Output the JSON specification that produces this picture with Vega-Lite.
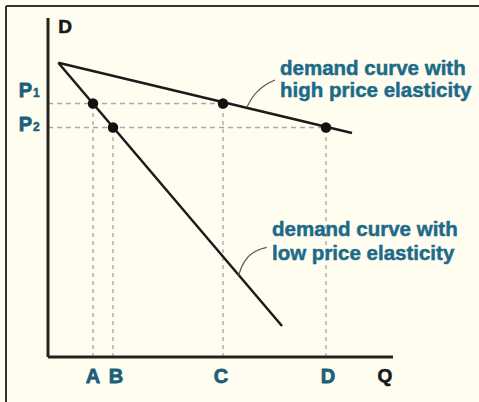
{
  "$schema": "https://vega.github.io/schema/vega-lite/v6.json",
  "width": 479,
  "height": 402,
  "autosize": "none",
  "padding": 0,
  "background": "#fffdf0",
  "config": {"view": {"stroke": null}},
  "datasets": {
    "curves": [
      {"curve": "high", "o": 0, "q": 1.03, "p": 29.43},
      {"curve": "high", "o": 1, "q": 30.4, "p": 22.4},
      {"curve": "low", "o": 0, "q": 1.03, "p": 29.43},
      {"curve": "low", "o": 1, "q": 23.4, "p": 3.1}
    ],
    "points": [
      {"name": "A", "q": 4.5, "p": 25.35},
      {"name": "B", "q": 6.5, "p": 22.95},
      {"name": "C", "q": 17.5, "p": 25.35},
      {"name": "D", "q": 27.8, "p": 22.95}
    ],
    "vdash": [
      {"q": 4.5, "p0": 0, "p1": 25.35},
      {"q": 6.5, "p0": 0, "p1": 22.95},
      {"q": 17.5, "p0": 0, "p1": 25.35},
      {"q": 27.8, "p0": 0, "p1": 22.95}
    ],
    "hdash": [
      {"q0": 0, "q1": 17.5, "p": 25.35},
      {"q0": 0, "q1": 27.8, "p": 22.95}
    ],
    "axes": [
      {"q0": 0, "q1": 0, "p0": 0, "p1": 33.9},
      {"q0": 0, "q1": 34.5, "p0": 0, "p1": 0}
    ],
    "border": [
      {"q0": -4.2, "q1": -4.2, "p0": 35.1, "p1": -4.5},
      {"q0": -4.2, "q1": 43.1, "p0": 35.1, "p1": 35.1}
    ],
    "leaders": [
      {"id": "high", "q": 19.9, "p": 25.0},
      {"id": "high", "q": 20.4, "p": 25.9},
      {"id": "high", "q": 21.1, "p": 26.7},
      {"id": "high", "q": 21.9, "p": 27.3},
      {"id": "high", "q": 22.7, "p": 27.7},
      {"id": "low", "q": 19.05, "p": 8.15},
      {"id": "low", "q": 19.37, "p": 9.03},
      {"id": "low", "q": 20.03, "p": 10.03},
      {"id": "low", "q": 20.87, "p": 10.63},
      {"id": "low", "q": 21.87, "p": 10.97}
    ],
    "ticklabels": [
      {"label": "A", "q": 4.5, "p": -2.6},
      {"label": "B", "q": 6.8, "p": -2.6},
      {"label": "C", "q": 17.3, "p": -2.6},
      {"label": "D", "q": 28.0, "p": -2.6}
    ],
    "axislabels": [
      {"label": "D", "q": 1.7, "p": 32.4},
      {"label": "Q", "q": 33.7, "p": -2.5}
    ],
    "plabels": [
      {"label": "P", "q": -2.25, "p": 26.0},
      {"label": "P", "q": -2.25, "p": 22.6}
    ],
    "psubs": [
      {"label": "1", "q": -1.5, "p": 26.0},
      {"label": "2", "q": -1.5, "p": 22.6}
    ],
    "notes": [
      {"text": "demand curve with", "q": 23.2, "p": 28.2},
      {"text": "high price elasticity", "q": 23.2, "p": 26.0},
      {"text": "demand curve with", "q": 22.4, "p": 12.1},
      {"text": "low price elasticity", "q": 22.4, "p": 9.7}
    ]
  },
  "layer": [
    {
      "data": {"name": "border"},
      "mark": {"type": "rule", "color": "#333333", "strokeWidth": 2},
      "encoding": {
        "x": {"field": "q0", "type": "quantitative", "scale": {"domain": [-4.8, 43.1], "nice": false, "zero": false}, "axis": null},
        "x2": {"field": "q1"},
        "y": {"field": "p0", "type": "quantitative", "scale": {"domain": [-4.5, 35.7], "nice": false, "zero": false}, "axis": null},
        "y2": {"field": "p1"}
      }
    },
    {
      "data": {"name": "hdash"},
      "mark": {"type": "rule", "color": "#a8a8a8", "strokeWidth": 1.5, "strokeDash": [5, 4]},
      "encoding": {
        "x": {"field": "q0", "type": "quantitative"},
        "x2": {"field": "q1"},
        "y": {"field": "p", "type": "quantitative"}
      }
    },
    {
      "data": {"name": "vdash"},
      "mark": {"type": "rule", "color": "#b0b0b0", "strokeWidth": 1.5, "strokeDash": [4, 4]},
      "encoding": {
        "x": {"field": "q", "type": "quantitative"},
        "y": {"field": "p0", "type": "quantitative"},
        "y2": {"field": "p1"}
      }
    },
    {
      "data": {"name": "axes"},
      "mark": {"type": "rule", "color": "#222222", "strokeWidth": 3},
      "encoding": {
        "x": {"field": "q0", "type": "quantitative"},
        "x2": {"field": "q1"},
        "y": {"field": "p0", "type": "quantitative"},
        "y2": {"field": "p1"}
      }
    },
    {
      "data": {"name": "curves"},
      "mark": {"type": "line", "color": "#1a1a1a", "strokeWidth": 2.5},
      "encoding": {
        "x": {"field": "q", "type": "quantitative"},
        "y": {"field": "p", "type": "quantitative"},
        "detail": {"field": "curve", "type": "nominal"},
        "order": {"field": "o", "type": "quantitative"}
      }
    },
    {
      "data": {"name": "leaders"},
      "mark": {"type": "line", "color": "#555555", "strokeWidth": 1.2, "interpolate": "monotone"},
      "encoding": {
        "x": {"field": "q", "type": "quantitative"},
        "y": {"field": "p", "type": "quantitative"},
        "detail": {"field": "id", "type": "nominal"}
      }
    },
    {
      "data": {"name": "points"},
      "mark": {"type": "circle", "color": "#111111", "opacity": 1, "size": 110},
      "encoding": {
        "x": {"field": "q", "type": "quantitative"},
        "y": {"field": "p", "type": "quantitative"}
      }
    },
    {
      "data": {"name": "ticklabels"},
      "mark": {"type": "text", "font": "Liberation Sans", "fontWeight": "bold", "fontSize": 20, "color": "#1d5f7a", "stroke": "#1d5f7a", "strokeWidth": 0.8, "align": "center", "baseline": "alphabetic"},
      "encoding": {
        "x": {"field": "q", "type": "quantitative"},
        "y": {"field": "p", "type": "quantitative"},
        "text": {"field": "label", "type": "nominal"}
      }
    },
    {
      "data": {"name": "axislabels"},
      "mark": {"type": "text", "font": "Liberation Sans", "fontWeight": "bold", "fontSize": 19, "color": "#1a1a1a", "stroke": "#1a1a1a", "strokeWidth": 0.6, "align": "center", "baseline": "alphabetic"},
      "encoding": {
        "x": {"field": "q", "type": "quantitative"},
        "y": {"field": "p", "type": "quantitative"},
        "text": {"field": "label", "type": "nominal"}
      }
    },
    {
      "data": {"name": "plabels"},
      "mark": {"type": "text", "font": "Liberation Sans", "fontWeight": "bold", "fontSize": 20, "color": "#1d5f7a", "stroke": "#1d5f7a", "strokeWidth": 0.8, "align": "center", "baseline": "alphabetic"},
      "encoding": {
        "x": {"field": "q", "type": "quantitative"},
        "y": {"field": "p", "type": "quantitative"},
        "text": {"field": "label", "type": "nominal"}
      }
    },
    {
      "data": {"name": "psubs"},
      "mark": {"type": "text", "font": "Liberation Sans", "fontWeight": "bold", "fontSize": 12, "color": "#1d5f7a", "stroke": "#1d5f7a", "strokeWidth": 0.5, "align": "left", "baseline": "alphabetic"},
      "encoding": {
        "x": {"field": "q", "type": "quantitative"},
        "y": {"field": "p", "type": "quantitative"},
        "text": {"field": "label", "type": "nominal"}
      }
    },
    {
      "data": {"name": "notes"},
      "mark": {"type": "text", "font": "Liberation Sans", "fontWeight": "bold", "fontSize": 20.5, "color": "#1d6a88", "stroke": "#1d6a88", "strokeWidth": 0.5, "align": "left", "baseline": "alphabetic"},
      "encoding": {
        "x": {"field": "q", "type": "quantitative"},
        "y": {"field": "p", "type": "quantitative"},
        "text": {"field": "text", "type": "nominal"}
      }
    }
  ]
}
